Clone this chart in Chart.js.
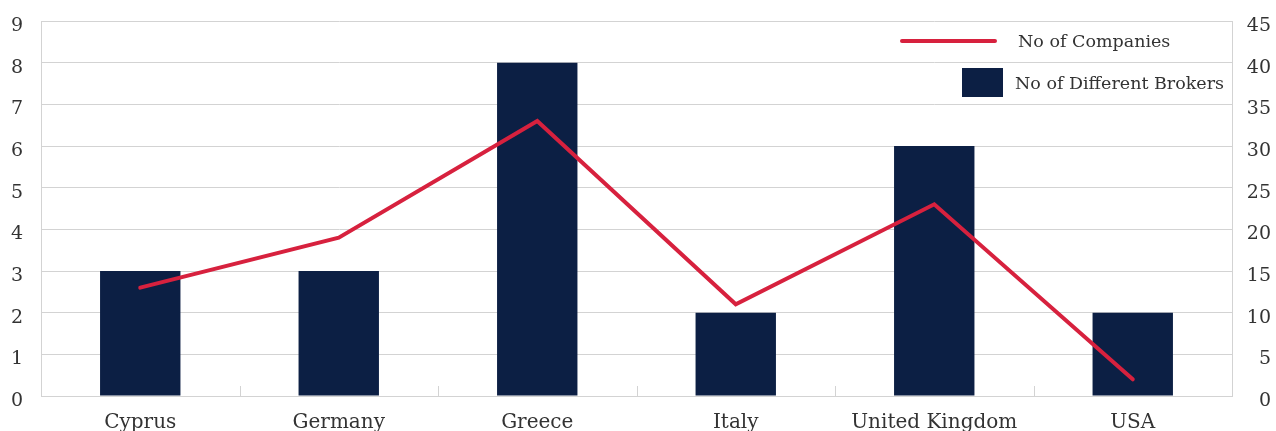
<!DOCTYPE html>
<html lang="en">
<head>
    <meta charset="UTF-8">
    <title>Companies and brokers by country</title>
    <script src="https://cdn.jsdelivr.net/npm/chart.js"></script>
    <style>
        html, body { margin: 0; padding: 0; background: #fff; }
        .grafico { position: relative; width: 1276px; height: 431px; }
        .legenda { position: absolute; left: 0; top: 0; font-family: "DejaVu Serif", serif; font-size: 17.5px; color: #333; }
        .legenda .item { position: absolute; white-space: nowrap; }
        .linha-amostra { position: absolute; left: 900px; top: 39px; width: 97px; height: 4px; border-radius: 2px; background: #d7213e; }
        .texto1 { left: 1018px; top: 31px; }
        .quadrado { position: absolute; left: 962px; top: 68px; width: 41px; height: 29px; background: #0c1f44; }
        .texto2 { left: 1015px; top: 73px; }
    </style>
</head>
<body>
    <div class="grafico">
        <canvas id="grafico" width="1276" height="431"></canvas>
        <div class="legenda">
            <div class="linha-amostra"></div>
            <span class="item texto1">No of Companies</span>
            <div class="quadrado"></div>
            <span class="item texto2">No of Different Brokers</span>
        </div>
    </div>

<script>
    const paises = ['Cyprus', 'Germany', 'Greece', 'Italy', 'United Kingdom', 'USA'];
    const corretoras = [3, 3, 8, 2, 6, 2];
    const empresas = [13, 19, 33, 11, 23, 2];
    const ticksEsquerda = [0, 1, 2, 3, 4, 5, 6, 7, 8, 9];
    const ticksDireita = [0, 5, 10, 15, 20, 25, 30, 35, 40, 45];

    const fonte = { family: '"DejaVu Serif", serif', size: 19 };
    const fonteX = { family: '"DejaVu Serif", serif', size: 20 };
    const cinza = '#d3d3d3';

    // pequenos tracos entre as categorias, subindo do eixo x
    const tracosEixo = {
        id: 'tracosEixo',
        afterDatasetsDraw(chart) {
            const x = chart.scales.x;
            const ctx = chart.ctx;
            const base = chart.chartArea.bottom;
            ctx.save();
            ctx.strokeStyle = cinza;
            ctx.lineWidth = 1;
            for (let i = 1; i < paises.length; i++) {
                const px = Math.round((x.getPixelForValue(i - 1) + x.getPixelForValue(i)) / 2) + 0.5;
                ctx.beginPath();
                ctx.moveTo(px, base - 10);
                ctx.lineTo(px, base);
                ctx.stroke();
            }
            ctx.restore();
        }
    };

    function larguraFixa(w) {
        return function (s) {
            s.width = w;
            s.paddingTop = 0;
            s.paddingBottom = 0;
        };
    }

    const config = {
        data: {
            labels: paises,
            datasets: [
                {
                    type: 'line',
                    label: 'No of Companies',
                    data: empresas,
                    yAxisID: 'y1',
                    borderColor: '#d7213e',
                    borderWidth: 4,
                    borderCapStyle: 'round',
                    pointRadius: 0,
                    tension: 0,
                    order: 0
                },
                {
                    type: 'bar',
                    label: 'No of Different Brokers',
                    data: corretoras,
                    yAxisID: 'y',
                    backgroundColor: '#0c1f44',
                    barPercentage: 0.81,
                    categoryPercentage: 0.5,
                    order: 1
                }
            ]
        },
        options: {
            responsive: false,
            animation: false,
            layout: { padding: { top: 21, right: 5, left: 0, bottom: 0 } },
            plugins: { legend: { display: false }, tooltip: { enabled: false } },
            scales: {
                x: {
                    grid: { display: false, drawTicks: false },
                    border: { display: true, color: cinza },
                    ticks: { font: fonteX, color: '#333', padding: 15, maxRotation: 0 },
                    afterFit(s) { s.height = 35; s.paddingLeft = 0; s.paddingRight = 0; }
                },
                y: {
                    position: 'left',
                    min: 0, max: 9,
                    afterBuildTicks(s) { s.ticks = ticksEsquerda.map(v => ({ value: v })); },
                    grid: { color: cinza, drawTicks: false },
                    border: { display: true, color: cinza },
                    ticks: { font: fonte, color: '#333', padding: 18, labelOffset: 5 },
                    afterFit: larguraFixa(41)
                },
                y1: {
                    position: 'right',
                    min: 0, max: 45,
                    afterBuildTicks(s) { s.ticks = ticksDireita.map(v => ({ value: v })); },
                    grid: { drawOnChartArea: false, drawTicks: false },
                    border: { display: true, color: cinza },
                    ticks: { font: fonte, color: '#333', padding: 10, crossAlign: 'far', labelOffset: 5 },
                    afterFit: larguraFixa(39)
                }
            }
        },
        plugins: [tracosEixo]
    };

    new Chart(document.getElementById('grafico'), config);
</script>
</body>
</html>
